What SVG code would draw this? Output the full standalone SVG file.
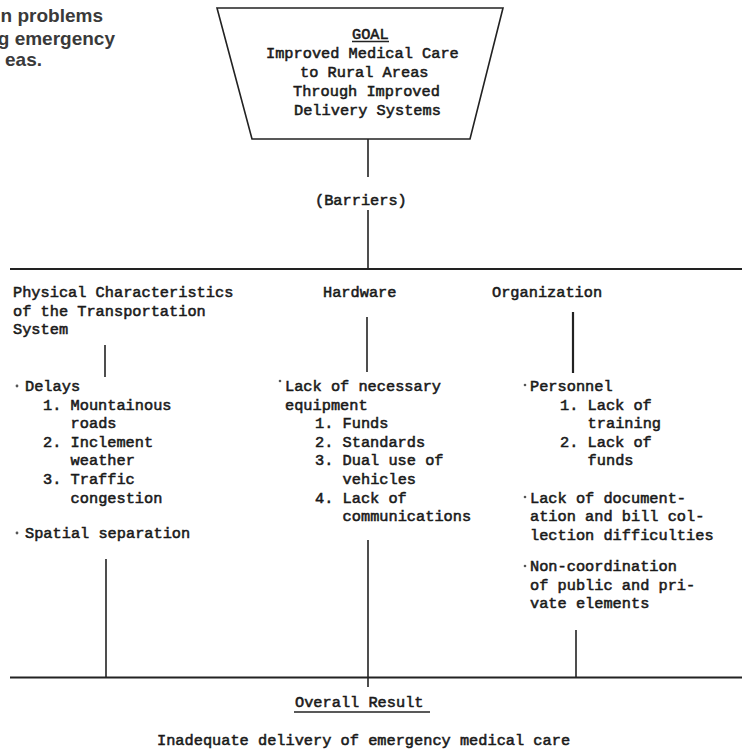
<svg xmlns="http://www.w3.org/2000/svg" width="742" height="752" viewBox="0 0 742 752">
<style>
.t{font-family:"Liberation Mono","Courier New",monospace;font-size:15.3px;fill:#1a1a1a;stroke:#1a1a1a;stroke-width:0.55}
.h{font-family:"Liberation Sans",Arial,sans-serif;font-size:19px;font-weight:bold;fill:#3a3a3a}
.ln{stroke:#222;stroke-width:1.6;fill:none}
.thick{stroke:#222;stroke-width:2.2;fill:none}
.b{fill:#555}
</style>
<rect width="742" height="752" fill="#fff"/>
<g id="caption">
<text class="h" x="103" y="22" text-anchor="end">n problems</text>
<text class="h" x="115" y="44.5" text-anchor="end">g emergency</text>
<text class="h" x="42" y="66" text-anchor="end">eas.</text>
</g>
<g id="goal">
<polygon class="ln" points="217,8 503,8 470,139 252,139"/>
<text class="t" x="352" y="38.5">GOAL</text>
<line class="ln" x1="352" y1="41.5" x2="389" y2="41.5" stroke-width="1.2"/>
<text class="t" x="266" y="57.5">Improved Medical Care</text>
<text class="t" x="300" y="76.5">to Rural Areas</text>
<text class="t" x="293" y="95.5">Through Improved</text>
<text class="t" x="294" y="114.5">Delivery Systems</text>
</g>
<g id="barriers">
<text class="t" x="315" y="205">(Barriers)</text>
</g>
<g id="physical">
<text class="t" x="13" y="297">Physical Characteristics</text>
<text class="t" x="13" y="315.6">of the Transportation</text>
<text class="t" x="13" y="334.2">System</text>
<circle class="b" cx="17" cy="386" r="1.4"/>
<text class="t" x="25" y="391">Delays</text>
<text class="t" x="43" y="409.6">1. Mountainous</text>
<text class="t" x="70.6" y="428.2">roads</text>
<text class="t" x="43" y="446.8">2. Inclement</text>
<text class="t" x="70.6" y="465.4">weather</text>
<text class="t" x="43" y="484">3. Traffic</text>
<text class="t" x="70.6" y="502.6">congestion</text>
<circle class="b" cx="17" cy="533" r="1.4"/>
<text class="t" x="25" y="537.5">Spatial separation</text>
</g>
<g id="hardware">
<text class="t" x="323" y="297">Hardware</text>
<circle class="b" cx="280" cy="381" r="1.3"/>
<text class="t" x="285" y="391">Lack of necessary</text>
<text class="t" x="285" y="409.6">equipment</text>
<text class="t" x="315" y="428.2">1. Funds</text>
<text class="t" x="315" y="446.8">2. Standards</text>
<text class="t" x="315" y="465.4">3. Dual use of</text>
<text class="t" x="342.6" y="484">vehicles</text>
<text class="t" x="315" y="502.6">4. Lack of</text>
<text class="t" x="342.6" y="521.2">communications</text>
</g>
<g id="organization">
<text class="t" x="492" y="297">Organization</text>
<circle class="b" cx="525" cy="385" r="1.3"/>
<text class="t" x="530" y="391">Personnel</text>
<text class="t" x="560" y="409.6">1. Lack of</text>
<text class="t" x="587.6" y="428.2">training</text>
<text class="t" x="560" y="446.8">2. Lack of</text>
<text class="t" x="587.6" y="465.4">funds</text>
<circle class="b" cx="525" cy="497" r="1.3"/>
<text class="t" x="530" y="502.6">Lack of document-</text>
<text class="t" x="530" y="521.2">ation and bill col-</text>
<text class="t" x="530" y="539.8">lection difficulties</text>
<circle class="b" cx="525" cy="566" r="1.3"/>
<text class="t" x="530" y="571">Non-coordination</text>
<text class="t" x="530" y="589.6">of public and pri-</text>
<text class="t" x="530" y="608.2">vate elements</text>
</g>
<g id="result">
<text class="t" x="295" y="707">Overall Result</text>
<line class="ln" x1="294" y1="712" x2="430" y2="712" stroke-width="1.4"/>
<text class="t" x="157" y="745">Inadequate delivery of emergency medical care</text>
</g>
<g id="connectors">
<line class="ln" x1="368" y1="139" x2="368" y2="177"/>
<line class="ln" x1="368" y1="210" x2="368" y2="269"/>
<line class="thick" x1="10" y1="269" x2="742" y2="269"/>
<line class="ln" x1="105" y1="345" x2="105" y2="377"/>
<line class="ln" x1="367" y1="317" x2="367" y2="372"/>
<line class="thick" x1="573" y1="312" x2="573" y2="373"/>
<line class="ln" x1="106" y1="559" x2="106" y2="677"/>
<line class="ln" x1="368" y1="540" x2="368" y2="687"/>
<line class="ln" x1="576" y1="630" x2="576" y2="677"/>
<line class="thick" x1="10" y1="677.5" x2="742" y2="677.5"/>
</g>
</svg>
